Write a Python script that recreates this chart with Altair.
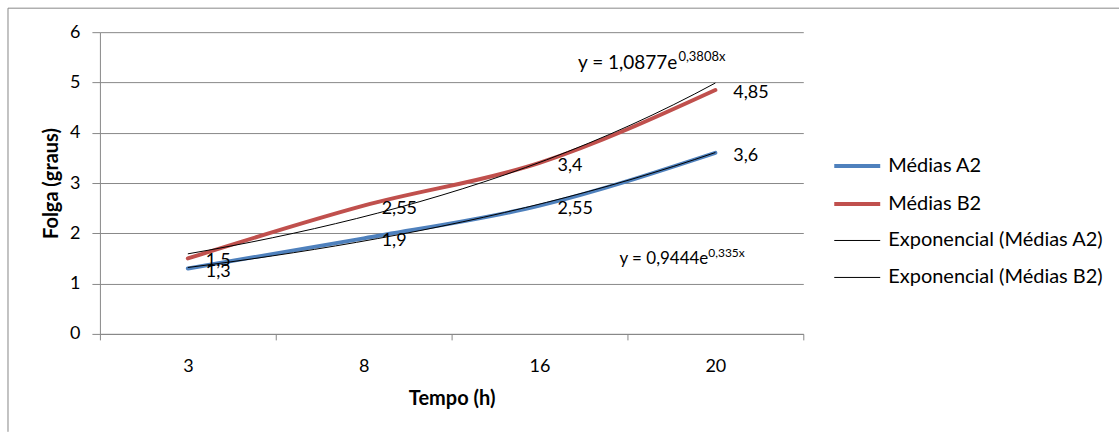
import altair as alt
import pandas as pd

# ---- data ----
times = ["3", "8", "16", "20"]
idx = [1, 2, 3, 4]
medias_a2 = [1.3, 1.9, 2.55, 3.6]
medias_b2 = [1.5, 2.55, 3.4, 4.85]
series_names = ["Médias A2", "Médias B2"]
trend_names = ["Exponencial (Médias A2)", "Exponencial (Médias B2)"]
line_colors = ["#4F81BD", "#C0504D", "#000000", "#000000"]
line_widths = [4, 4, 1, 1]
eq_main = ["y = 0,9444e", "y = 1,0877e"]
eq_sup = ["0,335x", "0,3808x"]
eq_idx = [3.96, 3.784]
eq_val = [1.39, 5.27]

rows = []
for name, vals in zip(series_names, [medias_a2, medias_b2]):
    for i, t, v in zip(idx, times, vals):
        rows.append({"series": name, "legend": name, "idx": i, "time": t, "value": v})
df = pd.DataFrame(rows)

eq_df = pd.DataFrame({"k": [0, 1], "main": eq_main, "sup": eq_sup,
                      "idx": eq_idx, "value": eq_val})

all_names = series_names + trend_names
GRID = "#888888"
FONT = "Lato"

label_arr = "[" + ",".join('"%s"' % t for t in times) + "]"
label_expr = "%s[floor(datum.value)] || ''" % label_arr

x_enc = alt.X(
    "idx:Q",
    scale=alt.Scale(domain=[0.5, 4.5], nice=False, zero=False),
    axis=alt.Axis(
        title="Tempo (h)",
        values=[0.5, 1.5, 2.5, 3.5, 4.5],
        labelExpr=label_expr,
        labelOffset=88,
        labelFlush=False,
        labelOverlap=False,
        grid=False,
        tickSize=6,
        tickColor=GRID,
        domainColor=GRID,
        labelFontSize=18,
        labelColor="black",
        labelPadding=18,
        titleFontSize=20,
        titleFontWeight="bold",
        titleColor="black",
        titlePadding=13,
    ),
)
y_enc = alt.Y(
    "value:Q",
    scale=alt.Scale(domain=[0, 6], nice=False),
    axis=alt.Axis(
        title="Folga (graus)",
        values=[0, 1, 2, 3, 4, 5, 6],
        grid=True,
        gridColor=GRID,
        tickSize=8,
        tickColor=GRID,
        domainColor=GRID,
        labelFontSize=18,
        labelColor="black",
        labelPadding=12,
        titleFontSize=20,
        titleFontWeight="bold",
        titleColor="black",
        titlePadding=8,
    ),
)

legend = alt.Legend(
    orient="none",
    legendX=733,
    legendY=109,
    symbolType="stroke",
    symbolSize=2116,
    labelFontSize=20,
    labelColor="black",
    labelOffset=6,
    rowPadding=3,
    labelLimit=400,
)
color_enc = alt.Color(
    "legend:N",
    title=None,
    scale=alt.Scale(domain=all_names, range=line_colors),
    legend=legend,
)
width_enc = alt.StrokeWidth(
    "legend:N",
    title=None,
    scale=alt.Scale(type="ordinal", domain=all_names, range=line_widths),
    legend=legend,
)

base = alt.Chart(df)
one = alt.Data(values=[{}])

# chart-area frame (only its top and left sides are inside the picture)
frame_top = alt.Chart(one).mark_rule(stroke=GRID, strokeWidth=1).encode(
    x=alt.value(-92), x2=alt.value(1020), y=alt.value(-24)
)
frame_left = alt.Chart(one).mark_rule(stroke=GRID, strokeWidth=1).encode(
    x=alt.value(-92), y=alt.value(-24), y2=alt.value(400)
)

lines = base.mark_line(interpolate="monotone", strokeCap="round").encode(
    x=x_enc, y=y_enc, color=color_enc, strokeWidth=width_enc, detail="series:N"
)

# Excel-style exponential trendline: least squares on ln(y), drawn back as exp
trends = base.transform_calculate(
    ly="log(datum.value)"
).transform_regression(
    "idx", "ly", method="poly", order=1, groupby=["series"], extent=[1, 4]
).transform_calculate(
    fit="exp(datum.ly)",
    legend='"Exponencial (" + datum.series + ")"',
).mark_line().encode(
    x="idx:Q", y="fit:Q", color=color_enc, strokeWidth=width_enc, detail="series:N"
)

labels = base.transform_calculate(
    label="replace(toString(datum.value), '.', ',')"
).mark_text(
    align="left", baseline="middle", dx=18, dy=3, fontSize=18, color="black"
).encode(x="idx:Q", y="value:Q", text="label:N")

eq = alt.Chart(eq_df)
eq_a_main = eq.transform_filter("datum.k == 0").mark_text(
    align="right", baseline="alphabetic", fontSize=17, color="black"
).encode(x="idx:Q", y="value:Q", text="main:N")
eq_a_sup = eq.transform_filter("datum.k == 0").mark_text(
    align="left", baseline="alphabetic", fontSize=12, dx=0, dy=-7, color="black"
).encode(x="idx:Q", y="value:Q", text="sup:N")
eq_b_main = eq.transform_filter("datum.k == 1").mark_text(
    align="right", baseline="alphabetic", fontSize=19, color="black"
).encode(x="idx:Q", y="value:Q", text="main:N")
eq_b_sup = eq.transform_filter("datum.k == 1").mark_text(
    align="left", baseline="alphabetic", fontSize=13, dx=1, dy=-8, color="black"
).encode(x="idx:Q", y="value:Q", text="sup:N")

chart = alt.layer(
    frame_top, frame_left, lines, trends, labels,
    eq_a_main, eq_a_sup, eq_b_main, eq_b_sup,
).properties(
    width=704, height=302,
    padding={"left": 7, "top": 7, "right": 0, "bottom": 0},
).configure(font=FONT).configure_view(stroke=None)

chart.save("out.html", embed_options={"renderer": "svg", "actions": False})
